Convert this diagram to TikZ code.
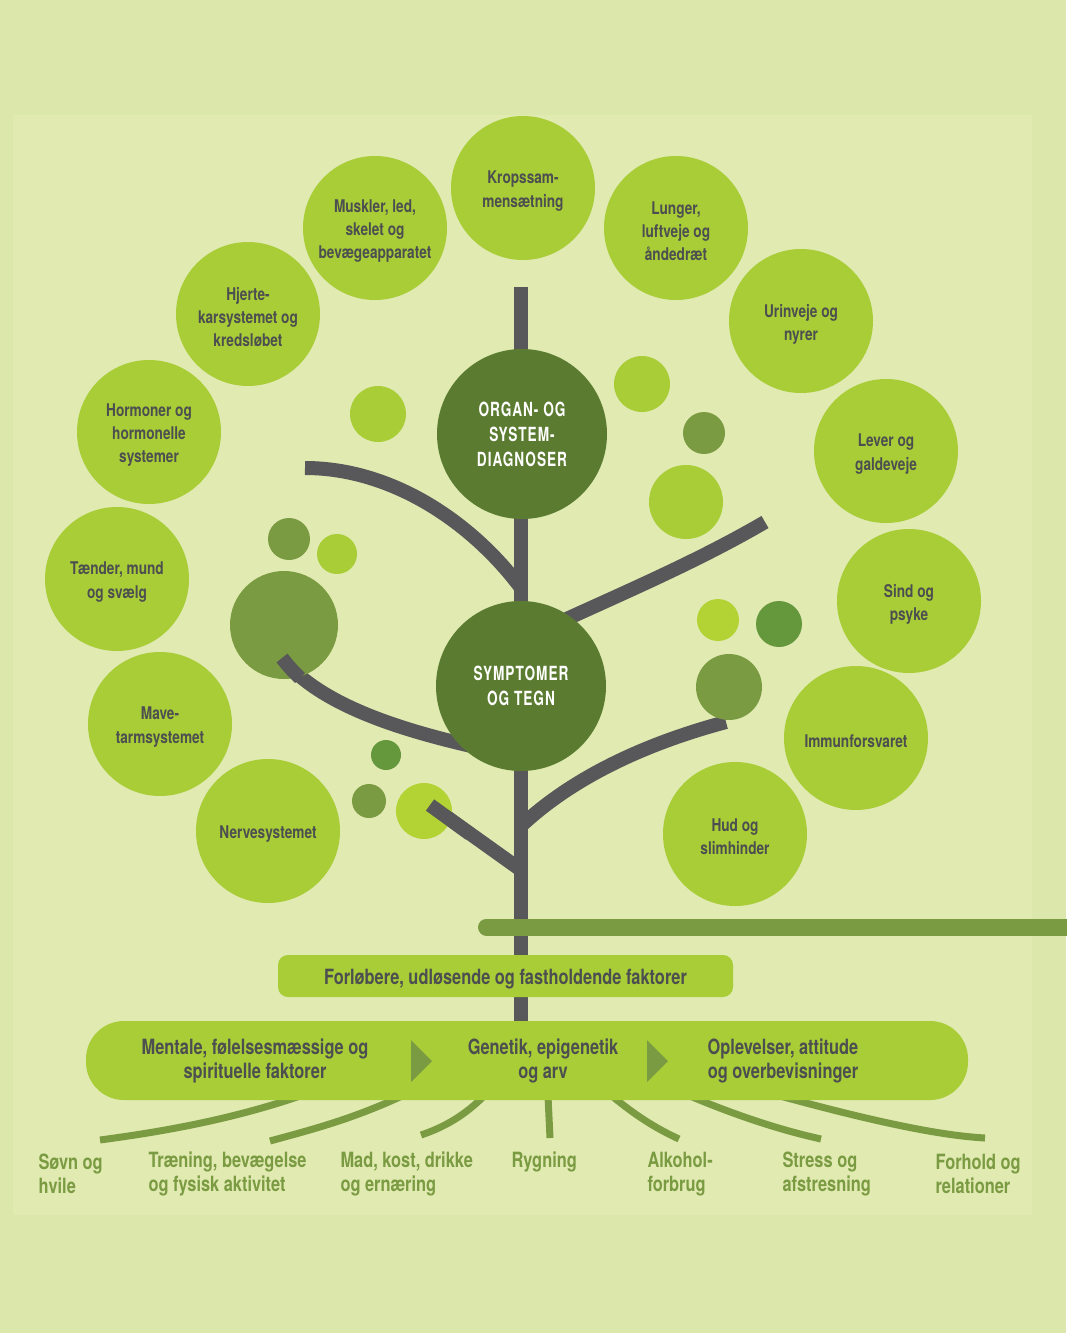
\documentclass[tikz,border=0pt]{standalone}
\usepackage{fontspec}
\setmainfont{TeX Gyre Heros}[FakeStretch=0.78]
\newfontfamily\capsfont{TeX Gyre Heros}[FakeStretch=0.7, LetterSpace=5]
\usepackage{xcolor}
\usepackage{tikz}
\usetikzlibrary{positioning, calc}

\definecolor{bgouter}{HTML}{DCE7AC}
\definecolor{bginner}{HTML}{E0EAB1}
\definecolor{limegreen}{HTML}{A8CD37}
\definecolor{yellowlime}{HTML}{B3D334}
\definecolor{treeolive}{HTML}{7A9B41}
\definecolor{leafgreen}{HTML}{65973C}
\definecolor{darkleaf}{HTML}{5A7B30}
\definecolor{trunkgray}{HTML}{58585A}
\definecolor{txtgray}{HTML}{4C4E50}

\tikzset{
  organ/.style={circle, fill=limegreen, minimum size=144pt, inner sep=0pt, align=center,
    text=txtgray, font=\fontsize{17.5}{23.2}\selectfont\bfseries},
  organtext/.style={align=center, text=txtgray, yshift=-3pt, font=\fontsize{17.5}{23.2}\selectfont\bfseries},
  level/.style={circle, fill=darkleaf, minimum size=170pt, inner sep=0pt, align=center,
    text=white, font=\capsfont\fontsize{19.5}{25}\selectfont\bfseries},
  dot/.style={circle, inner sep=0pt},
  branch/.style={line width=14pt, draw=trunkgray},
  root/.style={line width=7pt, draw=treeolive},
  bartext/.style={align=center, text=txtgray, font=\fontsize{21}{24.5}\selectfont\bfseries},
  rootlabel/.style={anchor=west, align=left, text=treeolive, font=\fontsize{21}{24.5}\selectfont\bfseries},
}

\begin{document}
\begin{tikzpicture}[x=1pt, y=-1pt]
        % background
        \fill[bgouter] (0,0) rectangle (1066,1333);
        \fill[bginner] (13,115) rectangle (1032,1215);
        \useasboundingbox (0,0) rectangle (1066,1333);

        % trunk and branches
        \draw[branch] (521,287) -- (521,1021);
        \draw[branch] (305,468) .. controls (390,468) and (470,520) .. (521,588);
        \draw[branch] (765,522) .. controls (700,560) and (630,590) .. (560,622);
        \draw[branch] (282,658) .. controls (320,705) and (400,730) .. (480,748);
        \draw[branch] (726,722) .. controls (640,745) and (570,780) .. (521,826);
        \draw[branch] (430,805) -- (521,870);

        % small leaves
        \node[dot, fill=limegreen, minimum size=56pt] (l1) at (378,414) {};
        \node[dot, fill=limegreen, minimum size=56pt] (l2) at (642,384) {};
        \node[dot, fill=treeolive, minimum size=42pt] (l3) at (704,433) {};
        \node[dot, fill=limegreen, minimum size=74pt] (l4) at (686,502) {};
        \node[dot, fill=treeolive, minimum size=42pt] (l5) at (289,539) {};
        \node[dot, fill=limegreen, minimum size=40pt] (l6) at (337,554) {};
        \node[dot, fill=treeolive, minimum size=108pt] (l7) at (284,625) {};
        \node[dot, fill=yellowlime, minimum size=42pt] (l8) at (718,620) {};
        \node[dot, fill=leafgreen, minimum size=46pt] (l9) at (779,624) {};
        \node[dot, fill=treeolive, minimum size=66pt] (l10) at (729,687) {};
        \node[dot, fill=leafgreen, minimum size=30pt] (l11) at (386,755) {};
        \node[dot, fill=treeolive, minimum size=34pt] (l12) at (369,801) {};
        \node[dot, fill=yellowlime, minimum size=56pt] (l13) at (424,811) {};
        \draw[branch] (430,805) -- (470,834);
        \draw[branch] (282,658) .. controls (290,668) .. (300,678);

        % organ systems
        \node[organ] (krop) at (523,188) {};
        \node[organtext] at (krop) {Kropssam-\\mensætning};
        \node[organ] (muskler) at (375,228) {};
        \node[organtext] at (muskler) {Muskler, led,\\skelet og\\bevægeapparatet};
        \node[organ] (lunger) at (676,228) {};
        \node[organtext] at (lunger) {Lunger,\\luftveje og\\åndedræt};
        \node[organ] (hjerte) at (248,314) {};
        \node[organtext] at (hjerte) {Hjerte-\\karsystemet og\\kredsløbet};
        \node[organ] (urin) at (801,321) {};
        \node[organtext] at (urin) {Urinveje og\\nyrer};
        \node[organ] (hormon) at (149,432) {};
        \node[organtext] at (hormon) {Hormoner og\\hormonelle\\systemer};
        \node[organ] (lever) at (886,451) {};
        \node[organtext] at (lever) {Lever og\\galdeveje};
        \node[organ] (taender) at (117,579) {};
        \node[organtext] at (taender) {Tænder, mund\\og svælg};
        \node[organ] (sind) at (909,601) {};
        \node[organtext] at (sind) {Sind og\\psyke};
        \node[organ] (mave) at (160,724) {};
        \node[organtext] at (mave) {Mave-\\tarmsystemet};
        \node[organ] (immun) at (856,738) {};
        \node[organtext] at (immun) {Immunforsvaret};
        \node[organ] (nerve) at (268,831) {};
        \node[organtext] at (nerve) {Nervesystemet};
        \node[organ] (hud) at (735,834) {};
        \node[organtext] at (hud) {Hud og\\slimhinder};

        % diagnosis levels
        \node[level] (organdiag) at (522,434) {ORGAN- OG\\SYSTEM-\\DIAGNOSER};
        \node[level] (symptom) at (521,686) {SYMPTOMER\\OG TEGN};

        % ground line
        \draw[line width=17pt, treeolive, line cap=round] (486.5,927) -- (1080,927);

        % roots
        \draw[root] (300,1096) .. controls (230,1120) and (160,1132) .. (100,1140);
        \draw[root] (402,1096) .. controls (350,1120) and (310,1130) .. (270,1141);
        \draw[root] (484,1096) .. controls (465,1115) and (445,1127) .. (421,1135);
        \draw[root] (548,1096) -- (550,1138);
        \draw[root] (612,1096) .. controls (635,1115) and (655,1128) .. (679,1139);
        \draw[root] (690,1096) .. controls (735,1115) and (780,1130) .. (821,1139);
        \draw[root] (780,1096) .. controls (850,1115) and (930,1135) .. (985,1138);

        % factors
        \node[fill=limegreen, rounded corners=10pt, minimum width=455pt, minimum height=42pt] (forloeb) at (505.5,976) {};
        \node[bartext, yshift=-3pt] at (forloeb.center) {Forløbere, udløsende og fastholdende faktorer};
        \node[fill=limegreen, rounded corners=38pt, minimum width=882pt, minimum height=79pt] (base) at (527,1060.5) {};
        \fill[treeolive] (411,1040) -- (432,1061) -- (411,1082) -- cycle;
        \fill[treeolive] (647,1040) -- (668,1061) -- (647,1082) -- cycle;
        \node[bartext] (mental) at (255,1061) {Mentale, følelsesmæssige og\\spirituelle faktorer};
        \node[bartext] (genetik) at (543,1061) {Genetik, epigenetik\\og arv};
        \node[bartext] (oplev) at (783,1061) {Oplevelser, attitude\\og overbevisninger};

        % lifestyle labels
        \node[rootlabel] (soevn) at (35,1174) {Søvn og\\hvile};
        \node[rootlabel] (traening) at (145,1174) {Træning, bevægelse\\og fysisk aktivitet};
        \node[rootlabel] (mad) at (337,1174) {Mad, kost, drikke\\og ernæring};
        \node[rootlabel] (rygning) at (508,1162) {Rygning};
        \node[rootlabel] (alkohol) at (644,1174) {Alkohol-\\forbrug};
        \node[rootlabel] (stress) at (779,1174) {Stress og\\afstresning};
        \node[rootlabel] (forhold) at (932,1174) {Forhold og\\relationer};
      \end{tikzpicture}
\end{document}
